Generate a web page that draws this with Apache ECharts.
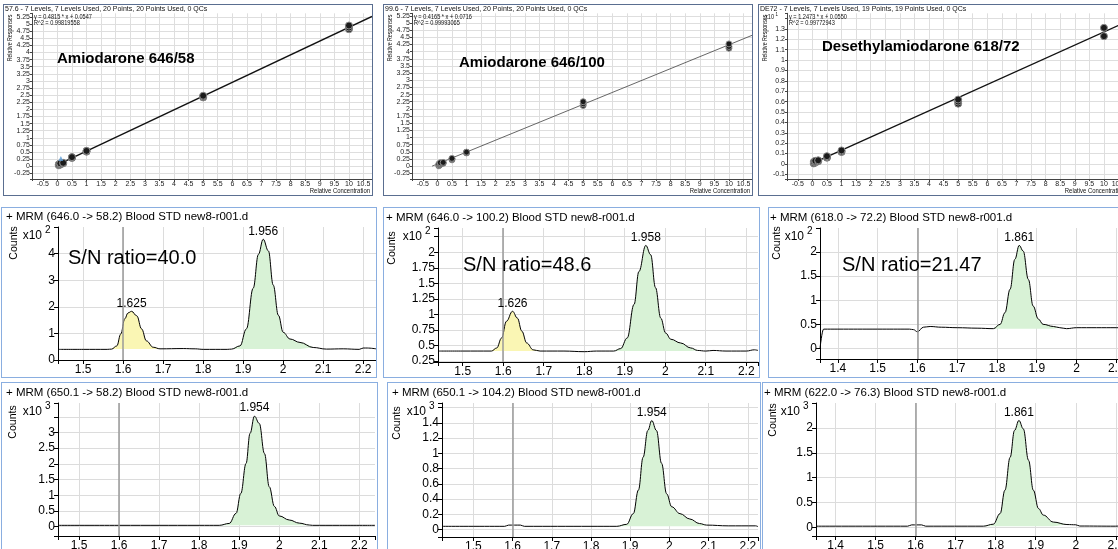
<!DOCTYPE html>
<html>
<head>
<meta charset="utf-8">
<title>Amiodarone calibration and MRM chromatograms</title>
<script src="https://cdn.jsdelivr.net/npm/echarts@6.0.0/dist/echarts.min.js"></script>
<style>
  html, body { margin: 0; padding: 0; background: #fff; }
  body { position: relative; width: 1118px; height: 549px; overflow: hidden; }
  .panel { position: absolute; box-sizing: border-box; background: #fff; }
  .cal { border: 1px solid #5a6e90; }
  .chrom { border: 1px solid #8aaee0; }
</style>
</head>
<body>
<div id="c1" class="panel cal" style="left:3px;top:4px;width:370px;height:192px"></div>
<div id="c2" class="panel cal" style="left:383px;top:4px;width:370px;height:192px"></div>
<div id="c3" class="panel cal" style="left:758px;top:4px;width:370px;height:192px"></div>
<div id="m1" class="panel chrom" style="left:1px;top:207px;width:376px;height:171px"></div>
<div id="m2" class="panel chrom" style="left:383px;top:207px;width:377px;height:171px"></div>
<div id="m3" class="panel chrom" style="left:768px;top:207px;width:360px;height:171px"></div>
<div id="b1" class="panel chrom" style="left:1px;top:382px;width:377px;height:180px"></div>
<div id="b2" class="panel chrom" style="left:387px;top:382px;width:374px;height:180px"></div>
<div id="b3" class="panel chrom" style="left:762px;top:382px;width:366px;height:180px"></div>

<script>
// calibration levels (relative concentration) and responses
const calConc1 = [0.05, 0.05, 0.05, 0.1, 0.1, 0.1, 0.2, 0.2, 0.5, 0.5, 0.5, 1, 1, 1, 5, 5, 5, 10, 10, 10];
const calResp1 = [0.03, 0.05, 0.07, 0.06, 0.08, 0.1, 0.1, 0.12, 0.29, 0.31, 0.32, 0.51, 0.53, 0.54, 2.42, 2.45, 2.48, 4.82, 4.88, 4.95];
const outlierConc1 = [0.12];
const outlierResp1 = [0.27];
const fitConc1 = [0, 10.79];
const fitResp1 = [0.05, 5.27];

const calConc2 = [0.05, 0.05, 0.05, 0.1, 0.1, 0.1, 0.2, 0.2, 0.5, 0.5, 0.5, 1, 1, 1, 5, 5, 5, 10, 10, 10];
const calResp2 = [0.01, 0.04, 0.07, 0.06, 0.09, 0.12, 0.1, 0.13, 0.22, 0.25, 0.27, 0.46, 0.48, 0.49, 2.12, 2.18, 2.25, 4.12, 4.18, 4.27];
const fitConc2 = [-0.18, 10.79];
const fitResp2 = [0.0, 4.57];

const calConc3 = [0.05, 0.05, 0.05, 0.1, 0.1, 0.1, 0.2, 0.2, 0.5, 0.5, 0.5, 1, 1, 1, 5, 5, 5, 10, 10];
const calResp3 = [0.005, 0.01, 0.02, 0.015, 0.02, 0.03, 0.025, 0.035, 0.06, 0.065, 0.075, 0.115, 0.12, 0.13, 0.58, 0.6, 0.62, 1.23, 1.31];
const fitConc3 = [0, 10.79];
const fitResp3 = [0.005, 1.37];

// chromatograms: acquisition time (min) and counts
const time1 = [1.437, 1.50, 1.56, 1.571, 1.584, 1.594, 1.604, 1.612, 1.621, 1.634, 1.646, 1.658, 1.675, 1.692, 1.75, 1.78, 1.80, 1.86, 1.871, 1.892, 1.908, 1.925, 1.938, 1.950, 1.963, 1.975, 1.988, 2.0, 2.017, 2.042, 2.075, 2.108, 2.15, 2.19, 2.20, 2.21, 2.232];
const counts1 = [0.40, 0.40, 0.40, 0.41, 0.53, 0.98, 1.55, 1.77, 1.83, 1.66, 1.17, 0.72, 0.48, 0.42, 0.43, 0.42, 0.40, 0.40, 0.41, 0.53, 1.17, 2.70, 3.97, 4.54, 4.10, 2.82, 1.68, 1.04, 0.79, 0.66, 0.47, 0.41, 0.42, 0.40, 0.45, 0.45, 0.42];
const peakStart1 = [1.571, 1.871];
const peakEnd1 = [1.692, 2.075];
const peakRT1 = ['1.625', '1.956'];

const time2 = [1.439, 1.50, 1.571, 1.584, 1.596, 1.608, 1.623, 1.635, 1.646, 1.658, 1.674, 1.691, 1.75, 1.80, 1.83, 1.873, 1.890, 1.906, 1.923, 1.935, 1.952, 1.964, 1.976, 1.989, 2.001, 2.014, 2.038, 2.063, 2.080, 2.10, 2.118, 2.15, 2.20, 2.22, 2.229];
const counts2 = [0.41, 0.41, 0.41, 0.46, 0.62, 0.89, 1.05, 0.94, 0.73, 0.54, 0.43, 0.41, 0.41, 0.40, 0.41, 0.41, 0.45, 0.62, 1.16, 1.69, 2.11, 1.96, 1.43, 0.94, 0.70, 0.60, 0.54, 0.46, 0.42, 0.41, 0.42, 0.41, 0.41, 0.43, 0.42];
const peakStart2 = [1.571, 1.873];
const peakEnd2 = [1.691, 2.080];
const peakRT2 = ['1.626', '1.958'];

const time3 = [1.355, 1.364, 1.40, 1.50, 1.58, 1.590, 1.600, 1.615, 1.632, 1.66, 1.70, 1.75, 1.791, 1.808, 1.820, 1.833, 1.845, 1.856, 1.866, 1.879, 1.891, 1.904, 1.916, 1.942, 1.958, 1.975, 2.0, 2.05, 2.10, 2.127];
const counts3 = [0, 0.40, 0.40, 0.40, 0.40, 0.39, 0.345, 0.44, 0.455, 0.44, 0.43, 0.42, 0.41, 0.50, 0.74, 1.23, 1.85, 2.14, 2.02, 1.43, 0.88, 0.61, 0.50, 0.455, 0.43, 0.41, 0.43, 0.43, 0.43, 0.42];
const peakStart3 = [1.791];
const peakEnd3 = [1.958];
const peakRT3 = ['1.861'];

const time4 = [1.4475, 1.60, 1.80, 1.85, 1.875, 1.892, 1.904, 1.917, 1.927, 1.938, 1.950, 1.963, 1.975, 1.988, 2.0, 2.025, 2.05, 2.075, 2.083, 2.15, 2.239];
const counts4 = [0.04, 0.04, 0.04, 0.04, 0.10, 0.42, 1.06, 2.01, 2.97, 3.52, 3.29, 2.33, 1.27, 0.64, 0.34, 0.21, 0.11, 0.05, 0.04, 0.04, 0.04];
const peakStart4 = [1.85];
const peakEnd4 = [2.083];
const peakRT4 = ['1.954'];

const time5 = [1.420, 1.58, 1.59, 1.62, 1.63, 1.80, 1.866, 1.891, 1.908, 1.921, 1.933, 1.945, 1.955, 1.967, 1.980, 1.993, 2.006, 2.027, 2.052, 2.077, 2.095, 2.15, 2.22, 2.226];
const counts5 = [0.044, 0.044, 0.06, 0.06, 0.044, 0.044, 0.044, 0.07, 0.21, 0.52, 0.95, 1.30, 1.43, 1.30, 0.87, 0.47, 0.30, 0.21, 0.14, 0.08, 0.06, 0.05, 0.05, 0.04];
const peakStart5 = [1.866];
const peakEnd5 = [2.095];
const peakRT5 = ['1.954'];

const time6 = [1.351, 1.58, 1.59, 1.615, 1.625, 1.769, 1.794, 1.811, 1.823, 1.836, 1.847, 1.858, 1.869, 1.882, 1.894, 1.907, 1.919, 1.944, 1.978, 2.0, 2.01, 2.10, 2.12, 2.128];
const counts6 = [0.027, 0.027, 0.053, 0.053, 0.027, 0.027, 0.067, 0.28, 0.75, 1.41, 1.95, 2.15, 1.98, 1.35, 0.75, 0.38, 0.25, 0.11, 0.06, 0.055, 0.03, 0.027, 0.04, 0.03];
const peakStart6 = [1.769];
const peakEnd6 = [1.978];
const peakRT6 = ['1.861'];

const markerRT = [1.6];

const FONT = "'Liberation Sans', Arial, sans-serif";
const YELLOW = '#faf6b4';
const GREEN = '#d8f2d6';
const SMOOTH = 0.4;

const zip = (a, b) => a.map((v, i) => [v, b[i]]);

// tick label: only on multiples of step, nothing at or above hideFrom
function tickLabel(step, hideFrom) {
  return function (v) {
    if (hideFrom != null && v >= hideFrom - 1e-9) return '';
    const k = v / step;
    if (Math.abs(k - Math.round(k)) > 1e-6) return '';
    return String(Math.round(v * 1000) / 1000);
  };
}

function txt(x, y, text, size, o) {
  o = o || {};
  const align = o.align || 'left';
  return {
    type: 'text', x: x, y: y, rotation: o.rot || 0, scaleX: o.sx || 1, silent: true, z: 50,
    style: {
      text: text, fontSize: size, fontFamily: FONT, fontWeight: o.bold ? 'bold' : 'normal',
      fill: o.color || '#111', textAlign: align, align: align,
      textVerticalAlign: 'middle', verticalAlign: 'middle'
    }
  };
}

//校准曲线
function calChart(cfg) {
  const chart = echarts.init(document.getElementById(cfg.id));
  const L = 28, T = 8.3;
  const small = (x, y, text, o) => txt(x, y, text, 7, Object.assign({ sx: 0.8 }, o));
  const els = [
    small(1, 4.5, cfg.header, { sx: 1 }),
    small(30, 11.7, cfg.eq),
    small(30, 18.3, cfg.r2),
    small(6, 33, 'Relative Responses', { rot: Math.PI / 2, align: 'center', sx: 0.75 }),
    small(366, 186, 'Relative Concentration', { align: 'right', sx: 0.85 }),
    txt(cfg.tpos[0], cfg.tpos[1], cfg.title, 15, { bold: true, color: '#000' })
  ];
  if (cfg.exp) {
    els.push(small(L - 13, T + 3.4, 'x10', { align: 'right' }));
    els.push(txt(L - 11.5, T + 0.8, cfg.exp, 5.5, { sx: 0.8 }));
  }
  const series = [
    {
      type: 'line', data: zip(cfg.fitX, cfg.fitY), symbol: 'none', silent: true,
      lineStyle: { color: cfg.lineColor, width: cfg.lineWidth }, z: 2
    },
    {
      type: 'scatter', data: zip(cfg.x, cfg.y), symbol: 'circle', symbolSize: cfg.size,
      itemStyle: { color: '#1b1b1b', borderColor: '#8a8a8a', borderWidth: 1, opacity: 1 }, z: 3
    }
  ];
  if (cfg.ox) {
    series.push({
      type: 'scatter', data: zip(cfg.ox, cfg.oy), symbol: 'triangle', symbolSize: 5,
      itemStyle: { color: '#5b9bd5' }, z: 4
    });
  }
  chart.setOption({
    animation: false,
    grid: { left: L, top: T, right: 0, bottom: 16, outerBoundsMode: 'none' },
    xAxis: {
      type: 'value', min: -0.87, max: 10.79, minInterval: 0.5, maxInterval: 0.5, splitNumber: 23,
      axisLine: { show: true, onZero: false, lineStyle: { color: '#444', width: 1 } },
      axisTick: { show: true, length: 2, lineStyle: { color: '#444' } },
      axisLabel: { show: true, hideOverlap: false, fontSize: 7, fontFamily: FONT, color: '#222', margin: 2, formatter: tickLabel(0.5, null) },
      splitLine: { show: true, showMinLine: false, showMaxLine: false, lineStyle: { color: '#dedede', width: 1 } }
    },
    yAxis: {
      type: 'value', min: cfg.ymin, max: cfg.ymax, minInterval: cfg.ystep, maxInterval: cfg.ystep,
      splitNumber: Math.round((cfg.ymax - cfg.ymin) / cfg.ystep),
      axisLine: { show: true, onZero: false, lineStyle: { color: '#444', width: 1 } },
      axisTick: { show: true, length: 2, lineStyle: { color: '#444' } },
      axisLabel: { show: true, hideOverlap: false, fontSize: 7, fontFamily: FONT, color: '#222', margin: 2, formatter: tickLabel(cfg.ystep, cfg.hide) },
      splitLine: { show: true, showMinLine: false, showMaxLine: false, lineStyle: { color: '#dedede', width: 1 } }
    },
    series: series,
    graphic: { elements: els }
  });
}

//色谱图
function chromChart(cfg) {
  const chart = echarts.init(document.getElementById(cfg.id));
  const pts = zip(cfg.t, cfg.c);
  const series = [];
  const apex = [];
  cfg.start.forEach((s, k) => {
    const seg = pts.filter(p => p[0] >= s - 1e-9 && p[0] <= cfg.end[k] + 1e-9);
    let top = seg[0];
    seg.forEach(p => { if (p[1] > top[1]) top = p; });
    apex.push({ name: cfg.rt[k], coord: top });
    series.push({
      type: 'line', data: seg, smooth: SMOOTH, smoothMonotone: 'x', symbol: 'none', silent: true,
      lineStyle: { width: 0, opacity: 0 },
      areaStyle: { color: cfg.fill[k], opacity: 1, origin: seg[0][1] }, z: 1
    });
  });
  series.push({
    type: 'line', data: pts, smooth: SMOOTH, smoothMonotone: 'x', symbol: 'none',
    lineStyle: { color: '#000', width: 1 }, z: 3,
    markLine: {
      silent: true, symbol: 'none', label: { show: false },
      lineStyle: { color: '#9a9a9a', width: 1.5, type: 'solid' },
      data: markerRT.map(v => ({ xAxis: v }))
    },
    markPoint: {
      symbol: 'circle', symbolSize: 0, silent: true,
      label: { show: true, position: 'top', distance: 2, color: '#000', fontSize: 12, fontFamily: FONT, formatter: '{b}' },
      data: apex
    }
  });
  const g = cfg.grid;
  const els = [
    txt(cfg.tpos[0], cfg.tpos[1], cfg.title, 11.5, { color: '#000' }),
    txt(cfg.cpos[0], cfg.cpos[1], 'Counts', 10.5, { rot: Math.PI / 2, align: 'center', color: '#000' }),
    txt(g.left - 16, g.top + 9, 'x10', 12, { align: 'right', color: '#000' }),
    txt(g.left - 13, g.top + 3, cfg.exp, 10, { color: '#000' })
  ];
  if (cfg.sn) els.push(txt(cfg.snpos[0], cfg.snpos[1], cfg.sn, 20, { color: '#000' }));
  chart.setOption({
    animation: false,
    grid: Object.assign({ outerBoundsMode: 'none' }, g),
    xAxis: {
      type: 'value', min: cfg.x[0], max: cfg.x[1], minInterval: 0.1, maxInterval: 0.1,
      splitNumber: Math.round((cfg.x[1] - cfg.x[0]) / 0.1),
      axisLine: { show: true, onZero: false, lineStyle: { color: '#000', width: 1 } },
      axisTick: { show: true, length: 4, lineStyle: { color: '#000' } },
      axisLabel: { show: true, hideOverlap: false, fontSize: 12, fontFamily: FONT, color: '#000', margin: 4, formatter: tickLabel(0.1, null) },
      splitLine: { show: true, showMinLine: false, showMaxLine: false, lineStyle: { color: '#dcdcdc', width: 1 } }
    },
    yAxis: {
      type: 'value', min: cfg.y[0], max: cfg.y[1], minInterval: cfg.ystep, maxInterval: cfg.ystep,
      splitNumber: Math.round((cfg.y[1] - cfg.y[0]) / cfg.ystep),
      axisLine: { show: true, onZero: false, lineStyle: { color: '#000', width: 1 } },
      axisTick: { show: true, length: 4, lineStyle: { color: '#000' } },
      axisLabel: { show: true, hideOverlap: false, fontSize: 12, fontFamily: FONT, color: '#000', margin: 3, formatter: tickLabel(cfg.ystep, cfg.hide) },
      splitLine: { show: true, showMinLine: false, showMaxLine: false, lineStyle: { color: '#dcdcdc', width: 1 } }
    },
    series: series,
    graphic: { elements: els }
  });
}

calChart({
  id: 'c1', x: calConc1, y: calResp1, ox: outlierConc1, oy: outlierResp1, fitX: fitConc1, fitY: fitResp1,
  ymin: -0.45, ymax: 5.38, ystep: 0.25, hide: null, exp: null, size: 7, lineColor: '#111', lineWidth: 1.3,
  header: '57.6 - 7 Levels, 7 Levels Used, 20 Points, 20 Points Used, 0 QCs',
  eq: 'y = 0.4815 * x + 0.0547', r2: 'R^2 = 0.99819558',
  title: 'Amiodarone 646/58', tpos: [53, 54]
});
calChart({
  id: 'c2', x: calConc2, y: calResp2, fitX: fitConc2, fitY: fitResp2,
  ymin: -0.45, ymax: 5.34, ystep: 0.25, hide: null, exp: null, size: 6, lineColor: '#555', lineWidth: 0.9,
  header: '99.6 - 7 Levels, 7 Levels Used, 20 Points, 20 Points Used, 0 QCs',
  eq: 'y = 0.4165 * x + 0.0716', r2: 'R^2 = 0.99993065',
  title: 'Amiodarone 646/100', tpos: [75, 58]
});
calChart({
  id: 'c3', x: calConc3, y: calResp3, fitX: fitConc3, fitY: fitResp3,
  ymin: -0.145, ymax: 1.45, ystep: 0.1, hide: 1.4, exp: '1', size: 7, lineColor: '#111', lineWidth: 1.3,
  header: 'DE72 - 7 Levels, 7 Levels Used, 19 Points, 19 Points Used, 0 QCs',
  eq: 'y = 1.2473 * x + 0.0550', r2: 'R^2 = 0.99772943',
  title: 'Desethylamiodarone 618/72', tpos: [63, 42]
});

chromChart({
  id: 'm1', t: time1, c: counts1, start: peakStart1, end: peakEnd1, rt: peakRT1, fill: [YELLOW, GREEN],
  grid: { left: 56, top: 19, right: 0, bottom: 17 }, x: [1.437, 2.232], y: [0, 5], ystep: 1, hide: 5, exp: '2',
  title: '+ MRM (646.0 -> 58.2) Blood STD new8-r001.d', tpos: [4, 9], cpos: [12, 35],
  sn: 'S/N ratio=40.0', snpos: [66, 50]
});
chromChart({
  id: 'm2', t: time2, c: counts2, start: peakStart2, end: peakEnd2, rt: peakRT2, fill: [YELLOW, GREEN],
  grid: { left: 54, top: 20, right: 1, bottom: 15 }, x: [1.439, 2.229], y: [0.234, 2.39], ystep: 0.25, hide: 2.25, exp: '2',
  title: '+ MRM (646.0 -> 100.2) Blood STD new8-r001.d', tpos: [2, 10], cpos: [8, 40],
  sn: 'S/N ratio=48.6', snpos: [79, 57]
});
chromChart({
  id: 'm3', t: time3, c: counts3, start: peakStart3, end: peakEnd3, rt: peakRT3, fill: [GREEN],
  grid: { left: 51, top: 20, right: 0, bottom: 18 }, x: [1.355, 2.127], y: [-0.22, 2.5], ystep: 0.5, hide: 2.5, exp: '2',
  title: '+ MRM (618.0 -> 72.2) Blood STD new8-r001.d', tpos: [1, 10], cpos: [8, 35],
  sn: 'S/N ratio=21.47', snpos: [73, 57]
});
chromChart({
  id: 'b1', t: time4, c: counts4, start: peakStart4, end: peakEnd4, rt: peakRT4, fill: [GREEN],
  grid: { left: 56, top: 20, right: 2, bottom: 25 }, x: [1.4475, 2.239], y: [-0.3, 3.94], ystep: 0.5, hide: 3.5, exp: '3',
  title: '+ MRM (650.1 -> 58.2) Blood STD new8-r001.d', tpos: [4, 10], cpos: [11, 39]
});
chromChart({
  id: 'b2', t: time5, c: counts5, start: peakStart5, end: peakEnd5, rt: peakRT5, fill: [GREEN],
  grid: { left: 54, top: 20, right: 2, bottom: 24 }, x: [1.420, 2.226], y: [-0.096, 1.66], ystep: 0.2, hide: 1.6, exp: '3',
  title: '+ MRM (650.1 -> 104.2) Blood STD new8-r001.d', tpos: [4, 10], cpos: [9, 40]
});
chromChart({
  id: 'b3', t: time6, c: counts6, start: peakStart6, end: peakEnd6, rt: peakRT6, fill: [GREEN],
  grid: { left: 53, top: 20, right: 0, bottom: 25 }, x: [1.351, 2.128], y: [-0.17, 2.5], ystep: 0.5, hide: 2.5, exp: '3',
  title: '+ MRM (622.0 -> 76.3) Blood STD new8-r001.d', tpos: [1, 10], cpos: [10, 37]
});
</script>
</body>
</html>
